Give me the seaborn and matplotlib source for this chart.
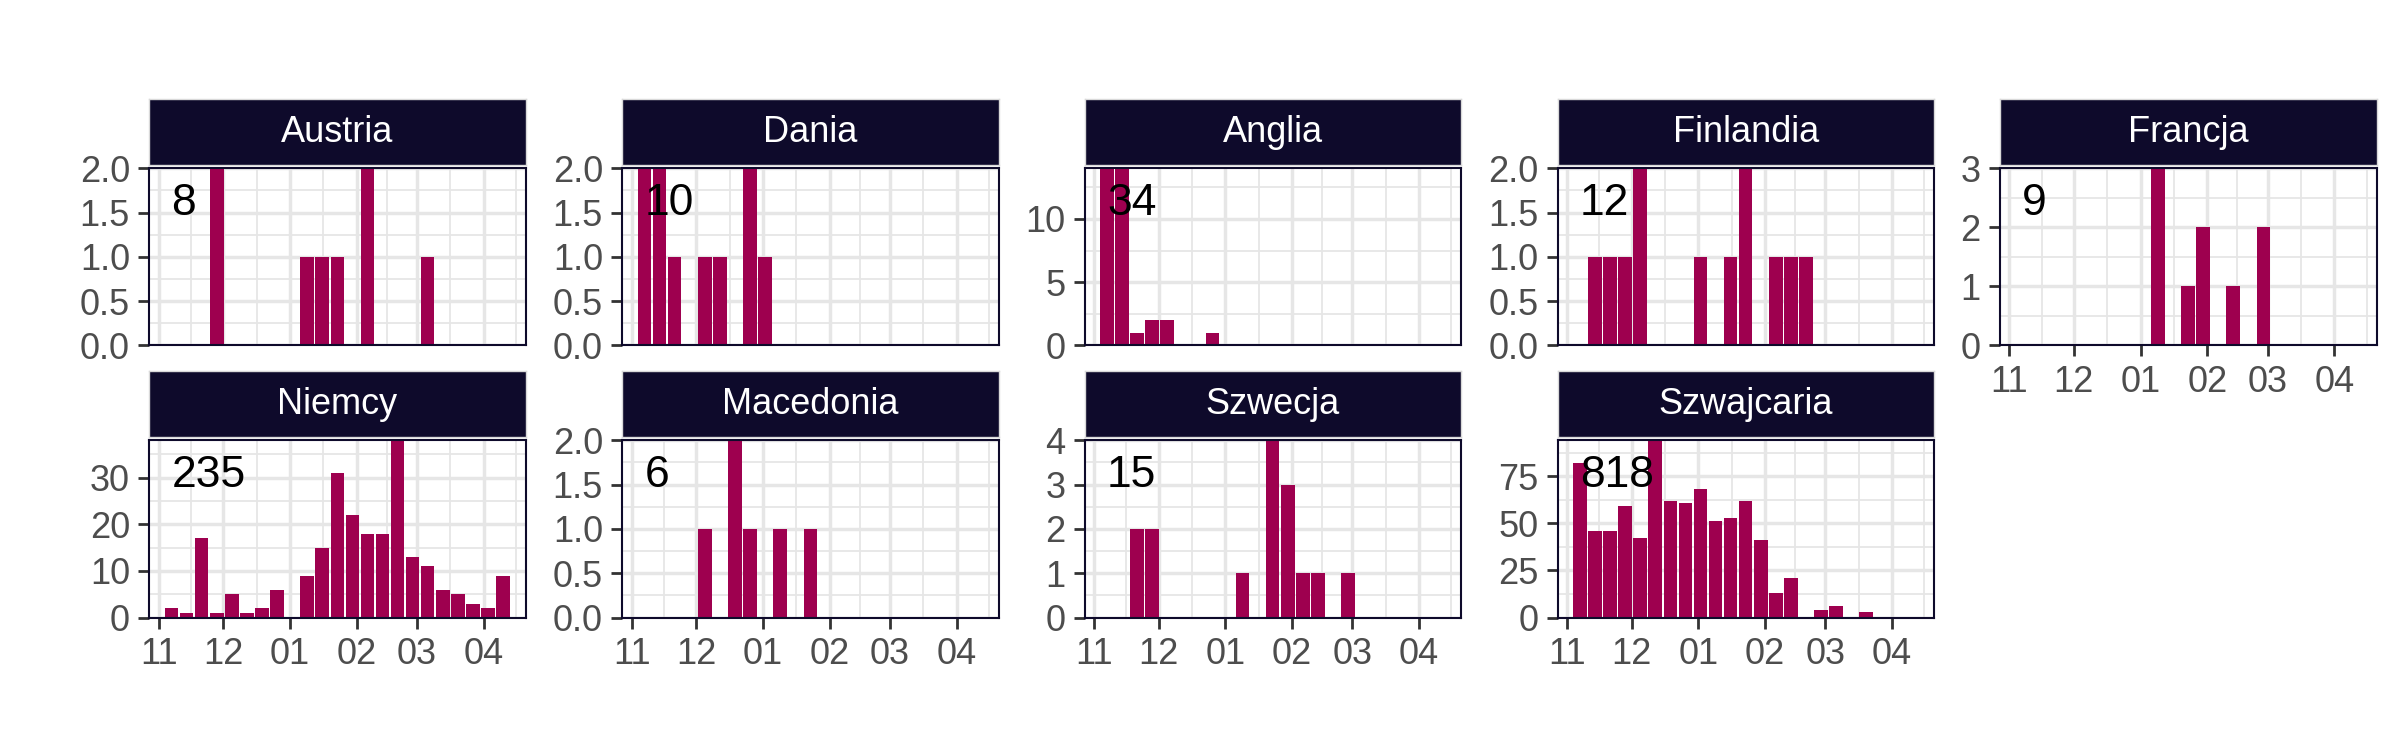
import matplotlib
matplotlib.use('Agg')
import matplotlib.pyplot as plt
import matplotlib.dates as mdates
import matplotlib.ticker as mticker
import matplotlib.transforms as mtransforms
import numpy as np
import pandas as pd
import seaborn as sns
from datetime import datetime

# Weekly counts per country (week start dates, Sunday)
weeks = pd.date_range('2021-11-07', periods=23, freq='7D')

austria = [0, 0, 0, 2, 0, 0, 0, 0, 0, 1, 1, 1, 0, 2, 0, 0, 0, 1, 0, 0, 0, 0, 0]
dania = [2, 2, 1, 0, 1, 1, 0, 2, 1, 0, 0, 0, 0, 0, 0, 0, 0, 0, 0, 0, 0, 0, 0]
anglia = [14, 14, 1, 2, 2, 0, 0, 1, 0, 0, 0, 0, 0, 0, 0, 0, 0, 0, 0, 0, 0, 0, 0]
finlandia = [0, 1, 1, 1, 2, 0, 0, 0, 1, 0, 1, 2, 0, 1, 1, 1, 0, 0, 0, 0, 0, 0, 0]
francja = [0, 0, 0, 0, 0, 0, 0, 0, 0, 3, 0, 1, 2, 0, 1, 0, 2, 0, 0, 0, 0, 0, 0]
niemcy = [2, 1, 17, 1, 5, 1, 2, 6, 0, 9, 15, 31, 22, 18, 18, 38, 13, 11, 6, 5, 3, 2, 9]
macedonia = [0, 0, 0, 0, 1, 0, 2, 1, 0, 1, 0, 1, 0, 0, 0, 0, 0, 0, 0, 0, 0, 0, 0]
szwecja = [0, 0, 2, 2, 0, 0, 0, 0, 0, 1, 0, 4, 3, 1, 1, 0, 1, 0, 0, 0, 0, 0, 0]
szwajcaria = [82, 46, 46, 59, 42, 94, 62, 61, 68, 51, 53, 62, 41, 13, 21, 0, 4, 6, 0, 3, 0, 0, 0]

countries = ['Austria', 'Dania', 'Anglia', 'Finlandia', 'Francja',
             'Niemcy', 'Macedonia', 'Szwecja', 'Szwajcaria']
series = [austria, dania, anglia, finlandia, francja,
          niemcy, macedonia, szwecja, szwajcaria]
totals = [8, 10, 34, 12, 9, 235, 6, 15, 818]
y_steps = [0.5, 0.5, 5, 0.5, 1, 10, 0.5, 1, 25]

week_num = mdates.date2num(weeks.to_pydatetime())
df = pd.DataFrame({
  'country': np.repeat(countries, len(weeks)),
  'week': np.tile(week_num, len(countries)),
  'count': np.concatenate(series).astype(float),
})

BAR = '#9E004F'
STRIP = '#0E0A2B'
GRID = '#E6E6E6'

sns.set_style('white')
plt.rcParams['font.family'] = ['Liberation Sans', 'DejaVu Sans']

W, H = 2400, 750
fig = plt.figure(figsize=(24, 7.5), dpi=100)

col_left = [149.3, 622.3, 1084.7, 1557.7, 2000.0]
panel_w = 376.5
row_top = [168.3, 440.3]
panel_h = 177.2
strip_top = [99.0, 371.0]
strip_h = 66.0

bin_range = (week_num[0] - 3.5, week_num[-1] + 3.5)
xlim = (mdates.date2num(datetime(2021, 10, 27, 16)),
        mdates.date2num(datetime(2022, 4, 20, 14)))
month_starts = pd.date_range('2021-10-01', '2022-05-01', freq='MS')
ms_num = mdates.date2num(month_starts.to_pydatetime())
minor_x = (ms_num[:-1] + ms_num[1:]) / 2

for i, name in enumerate(countries):
  row, col = divmod(i, 5)
  x0 = col_left[col]
  ax = fig.add_axes([x0 / W, (H - row_top[row] - panel_h) / H,
                     panel_w / W, panel_h / H])
  sub = df[df['country'] == name]
  sns.histplot(data=sub, x='week', weights='count', binwidth=7,
               binrange=bin_range, shrink=0.9, color=BAR, alpha=1,
               linewidth=0, ax=ax)
  ax.set_xlim(*xlim)
  ax.set_ylim(0, max(series[i]))
  ax.set_xlabel('')
  ax.set_ylabel('')

  step = y_steps[i]
  ax.yaxis.set_major_locator(mticker.MultipleLocator(step))
  ax.yaxis.set_minor_locator(mticker.MultipleLocator(step / 2))
  if step < 1:
    ax.yaxis.set_major_formatter(mticker.FormatStrFormatter('%.1f'))
  else:
    ax.yaxis.set_major_formatter(mticker.FormatStrFormatter('%d'))
  ax.xaxis.set_major_locator(mdates.MonthLocator())
  ax.xaxis.set_major_formatter(mdates.DateFormatter('%m'))
  ax.xaxis.set_minor_locator(mticker.FixedLocator(minor_x))

  ax.set_axisbelow(True)
  ax.grid(which='major', color=GRID, linewidth=2.5)
  ax.grid(which='minor', color=GRID, linewidth=1.3)
  for s in ax.spines.values():
    s.set_color(STRIP)
    s.set_linewidth(1.5)
  show_x = (row == 1) or (col == 4)
  ax.tick_params(axis='y', which='major', left=True, length=7.9, width=2.0,
                 color='#333333', labelcolor='#4D4D4D', labelsize=26,
                 pad=6)
  ax.tick_params(axis='x', which='major', bottom=show_x, labelbottom=show_x,
                 length=7.9, width=2.0, color='#333333',
                 labelcolor='#4D4D4D', labelsize=26, pad=6)
  ax.tick_params(axis='both', which='minor', length=0)

  # total label
  trans = mtransforms.blended_transform_factory(ax.transData, ax.transAxes)
  ax.text(week_num[0], 0.80, str(totals[i]), transform=trans,
          ha='left', va='center', fontsize=32, color='black')

  # facet strip
  sax = fig.add_axes([x0 / W, (H - strip_top[row] - strip_h) / H,
                      panel_w / W, strip_h / H])
  sax.set_facecolor(STRIP)
  sax.set_xticks([])
  sax.set_yticks([])
  for s in sax.spines.values():
    s.set_color('#D9D9D9')
    s.set_linewidth(1.0)
  sax.text(0.5, 0.5, name, transform=sax.transAxes, ha='center',
           va='center', color='white', fontsize=26)

fig.savefig('out.png', dpi=100)
